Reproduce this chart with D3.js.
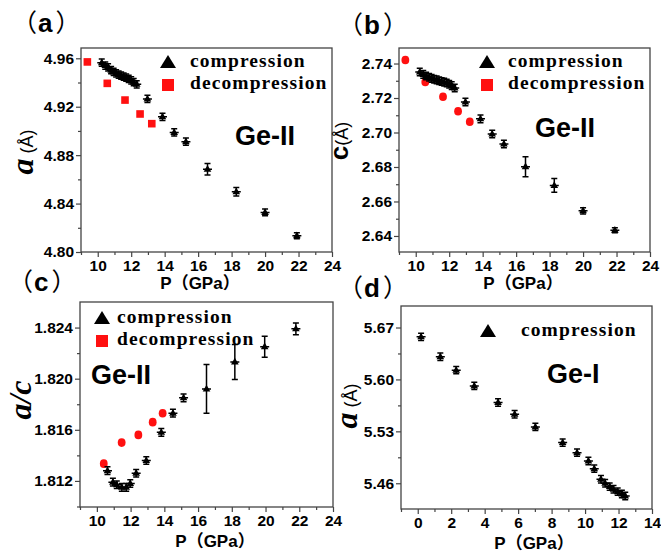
<!DOCTYPE html>
<html>
<head>
<meta charset="utf-8">
<script src="https://cdn.jsdelivr.net/npm/d3@7/dist/d3.min.js"></script>
<style>
body { margin: 0; background: #fff; }
svg { display: block; }
.tick text { font-family: "Liberation Sans", Arial, sans-serif; font-weight: bold; font-size: 15.5px; fill: #000; }
.tick line { stroke: #444; stroke-width: 1.2; }
</style>
</head>
<body>
<svg id="fig" width="661" height="552"></svg>
<script>
// ---- (a) lattice a of Ge-II ----
var geIIPress = [10.24, 10.45, 10.62, 10.8, 10.95, 11.1, 11.25, 11.4, 11.55, 11.7, 11.85, 12.0, 12.15, 12.33, 12.97, 13.87, 14.57, 15.27, 16.56, 18.28, 20.0, 21.9];
var aComp    = [4.9564, 4.9540, 4.9525, 4.9502, 4.9487, 4.9476, 4.9466, 4.9457, 4.9449, 4.9440, 4.9430, 4.9418, 4.9403, 4.9385, 4.9264, 4.9117, 4.8988, 4.8911, 4.8683, 4.8498, 4.8327, 4.8134];
var aCompErr = [0.003, 0.003, 0.003, 0.003, 0.003, 0.003, 0.003, 0.003, 0.003, 0.003, 0.003, 0.003, 0.003, 0.003, 0.003, 0.003, 0.003, 0.003, 0.0048, 0.0035, 0.0028, 0.0025];
var decPress = [9.38, 10.57, 11.63, 12.53, 13.23];
var aDec     = [4.957, 4.9393, 4.9255, 4.914, 4.906];

// ---- (b) lattice c of Ge-II ----
var cComp    = [2.7351, 2.7337, 2.7328, 2.7320, 2.7314, 2.7309, 2.7305, 2.7300, 2.7296, 2.7292, 2.7287, 2.7280, 2.7272, 2.7258, 2.7177, 2.7079, 2.6991, 2.6933, 2.6802, 2.6693, 2.6546, 2.6433];
var cCompErr = [0.0022, 0.0022, 0.0022, 0.0022, 0.0022, 0.0022, 0.0022, 0.0022, 0.0022, 0.0022, 0.0022, 0.0022, 0.0022, 0.0022, 0.0022, 0.0022, 0.0022, 0.0022, 0.0058, 0.004, 0.0018, 0.0015];
var cDec     = [2.742, 2.7293, 2.7207, 2.7123, 2.7062];

// ---- (c) a/c ratio ----
var ratioPress = [10.63, 10.95, 11.18, 11.48, 11.74, 11.98, 12.33, 12.93, 13.82, 14.51, 15.14, 16.5, 18.18, 19.95, 21.8];
var ratioComp  = [1.8128, 1.8119, 1.8117, 1.8115, 1.8115, 1.8118, 1.8126, 1.8136, 1.8158, 1.8173, 1.8185, 1.8192, 1.8213, 1.8225, 1.8239];
var ratioErr   = [0.0003, 0.0003, 0.0003, 0.0003, 0.0003, 0.0003, 0.0003, 0.0003, 0.0003, 0.0003, 0.0003, 0.0019, 0.00137, 0.00082, 0.00046];
var ratioDecP  = [10.41, 11.47, 12.46, 13.31, 13.9];
var ratioDec   = [1.81335, 1.8150, 1.8156, 1.8166, 1.8173];

// ---- (d) lattice a of Ge-I ----
var geIPress = [0.2, 1.35, 2.3, 3.38, 4.8, 5.79, 7.03, 8.66, 9.52, 10.2, 10.55, 10.95, 11.2, 11.47, 11.7, 11.95, 12.2, 12.4];
var geIa     = [5.6574, 5.6305, 5.6125, 5.5913, 5.5688, 5.5531, 5.536, 5.5148, 5.5013, 5.4901, 5.4797, 5.4654, 5.46, 5.4555, 5.452, 5.4487, 5.4456, 5.4429];
var geIErr   = [0.005, 0.005, 0.005, 0.005, 0.005, 0.005, 0.005, 0.005, 0.005, 0.005, 0.005, 0.005, 0.005, 0.005, 0.005, 0.005, 0.005, 0.005];

var pTicksII = [10, 12, 14, 16, 18, 20, 22, 24];
var pMinorII = [9, 11, 13, 15, 17, 19, 21, 23];
var pTicksI  = [0, 2, 4, 6, 8, 10, 12, 14];
var pMinorI  = [-1, 1, 3, 5, 7, 9, 11, 13];

var svg = d3.select("#fig");
var SANS = "'Liberation Sans', Arial, sans-serif";
var SERIF = "'Liberation Serif', 'Times New Roman', serif";
var CJK = "'Liberation Sans', 'Noto Sans CJK SC', sans-serif";

function zip(a, b, e) {
  return a.map(function(p, i) { return {p: p, v: b[i], e: e ? e[i] : 0}; });
}

function panel(o) {
  var x = d3.scaleLinear().domain(o.xDom).range([o.l, o.r]);
  var y = d3.scaleLinear().domain(o.yDom).range([o.b, o.t]);
  var g = svg.append("g");

  // axes (outward ticks, Origin style)
  g.append("g").attr("transform", "translate(0," + o.b + ")")
    .call(d3.axisBottom(x).tickValues(o.xMinor).tickSize(3).tickSizeOuter(0).tickFormat(""))
    .select(".domain").remove();
  g.append("g").attr("transform", "translate(0," + o.b + ")")
    .call(d3.axisBottom(x).tickValues(o.xTicks).tickSize(5).tickPadding(3).tickSizeOuter(0).tickFormat(d3.format("d")))
    .select(".domain").remove();
  g.append("g").attr("transform", "translate(" + o.l + ",0)")
    .call(d3.axisLeft(y).tickValues(o.yMinor).tickSize(3).tickSizeOuter(0).tickFormat(""))
    .select(".domain").remove();
  g.append("g").attr("transform", "translate(" + o.l + ",0)")
    .call(d3.axisLeft(y).tickValues(o.yTicks).tickSize(5).tickPadding(2).tickSizeOuter(0).tickFormat(d3.format(o.yFmt)))
    .select(".domain").remove();

  g.append("rect")
    .attr("x", o.l).attr("y", o.t)
    .attr("width", o.r - o.l).attr("height", o.b - o.t)
    .attr("fill", "none").attr("stroke", "#444").attr("stroke-width", 1.3);

  // decompression points
  if (o.dec) {
    var dg = g.append("g").attr("fill", "#ff1010");
    if (o.decShape == "square") {
      dg.selectAll("rect").data(o.dec).join("rect")
        .attr("x", function(d) { return x(d.p) - 3.8; })
        .attr("y", function(d) { return y(d.v) - 3.8; })
        .attr("width", 7.6).attr("height", 7.6);
    } else {
      dg.selectAll("ellipse").data(o.dec).join("ellipse")
        .attr("cx", function(d) { return x(d.p); })
        .attr("cy", function(d) { return y(d.v); })
        .attr("rx", 3.9).attr("ry", 4.3);
    }
  }

  // compression points: triangle + error bars
  var pts = g.selectAll("g.pt").data(o.comp).join("g")
    .attr("class", "pt")
    .attr("transform", function(d) { return "translate(" + x(d.p) + "," + y(d.v) + ")"; });
  pts.append("path")
    .attr("d", function(d) {
      var up = y(d.v + d.e) - y(d.v), dn = y(d.v - d.e) - y(d.v);
      return "M0," + up + "V" + dn + "M-3," + up + "H3M-3," + dn + "H3M-4.5,0H4.5";
    })
    .attr("stroke", "#000").attr("stroke-width", 1.5).attr("fill", "none");
  pts.append("path").attr("d", "M0,-4.2L3.8,2.5L-3.8,2.5Z").attr("fill", "#000");

  // legend
  var lg = g.append("g");
  lg.append("path")
    .attr("transform", "translate(" + o.leg[0] + "," + o.leg[1] + ")")
    .attr("d", "M0,-7L8,6L-8,6Z").attr("fill", "#000");
  lg.append("text").attr("x", o.leg[2]).attr("y", o.leg[1] + 5)
    .style("font-family", SERIF).style("font-weight", "bold").style("font-size", "19.5px")
    .style("letter-spacing", "1.1px")
    .text("compression");
  if (o.dec) {
    lg.append("rect").attr("x", o.leg[0] - 6).attr("y", o.leg[1] + 17)
      .attr("width", 12).attr("height", 12).attr("fill", "#ff1010");
    lg.append("text").attr("x", o.leg[2]).attr("y", o.leg[1] + 27)
      .style("font-family", SERIF).style("font-weight", "bold").style("font-size", "19.5px")
      .style("letter-spacing", "1.1px")
      .text("decompression");
  }

  // phase name
  g.append("text").attr("x", o.phase[0]).attr("y", o.phase[1])
    .style("font-family", SANS).style("font-weight", "bold").style("font-size", "27px")
    .text(o.phaseName);

  // panel label
  var pl = g.append("text").attr("x", o.lab[0]).attr("y", o.lab[1])
    .style("font-family", CJK).style("font-size", "25px");
  pl.append("tspan").text("（");
  pl.append("tspan").attr("dx", 1).style("font-weight", "bold").style("font-size", "26px").text(o.label);
  pl.append("tspan").attr("dx", 3).text("）");

  // x title
  g.append("text").attr("x", o.xt[0]).attr("y", o.xt[1])
    .attr("text-anchor", "middle")
    .style("font-family", CJK).style("font-weight", "bold").style("font-size", "17px")
    .text("P（GPa）");

  // y title
  var yt = g.append("text")
    .attr("transform", "translate(" + o.yt[0] + "," + o.yt[1] + ") rotate(-90)")
    .attr("text-anchor", "middle");
  o.yTitle.forEach(function(s) {
    yt.append("tspan").text(s.t)
      .style("font-family", s.f).style("font-size", s.size + "px")
      .style("font-weight", s.w || "normal").style("font-style", s.i ? "italic" : "normal");
  });
}

panel({
  l: 81, r: 332, t: 48, b: 252,
  xDom: [9, 24], yDom: [4.80, 4.9685],
  xTicks: pTicksII, xMinor: pMinorII,
  yTicks: [4.80, 4.84, 4.88, 4.92, 4.96], yMinor: [4.82, 4.86, 4.90, 4.94], yFmt: ".2f",
  comp: zip(geIIPress, aComp, aCompErr), dec: zip(decPress, aDec), decShape: "square",
  leg: [168, 62, 190], phase: [235, 145], phaseName: "Ge-II",
  lab: [12, 32], label: "a", xt: [200, 289],
  yt: [33, 152], yTitle: [{t: "a", f: SERIF, size: 32, w: "bold", i: true}, {t: " (Å)", f: SANS, size: 18}]
});

panel({
  l: 399, r: 650, t: 48, b: 252,
  xDom: [9, 24], yDom: [2.6307, 2.749],
  xTicks: pTicksII, xMinor: pMinorII,
  yTicks: [2.64, 2.66, 2.68, 2.70, 2.72, 2.74], yMinor: [2.65, 2.67, 2.69, 2.71, 2.73], yFmt: ".2f",
  comp: zip(geIIPress, cComp, cCompErr), dec: zip(decPress, cDec), decShape: "circle",
  leg: [487, 62, 508], phase: [535, 137], phaseName: "Ge-II",
  lab: [338, 34], label: "b", xt: [523, 289],
  yt: [348, 141], yTitle: [{t: "c", f: SANS, size: 26, w: "bold"}, {t: "(Å)", f: SANS, size: 18}]
});

panel({
  l: 80, r: 333, t: 302, b: 507,
  xDom: [9, 24], yDom: [1.80996, 1.826],
  xTicks: pTicksII, xMinor: pMinorII,
  yTicks: [1.812, 1.816, 1.820, 1.824], yMinor: [1.810, 1.814, 1.818, 1.822], yFmt: ".3f",
  comp: zip(ratioPress, ratioComp, ratioErr), dec: zip(ratioDecP, ratioDec), decShape: "circle",
  leg: [102, 318, 117], phase: [91, 384], phaseName: "Ge-II",
  lab: [8, 291], label: "c", xt: [215, 547],
  yt: [31, 400], yTitle: [{t: "a/c", f: SERIF, size: 32, w: "bold", i: true}]
});

panel({
  l: 401, r: 652, t: 306, b: 509,
  xDom: [-1, 14], yDom: [5.4253, 5.699],
  xTicks: pTicksI, xMinor: pMinorI,
  yTicks: [5.46, 5.53, 5.60, 5.67], yMinor: [5.495, 5.565, 5.635], yFmt: ".2f",
  comp: zip(geIPress, geIa, geIErr), dec: null,
  leg: [488, 331, 521], phase: [547, 383], phaseName: "Ge-I",
  lab: [338, 297], label: "d", xt: [534, 549],
  yt: [357, 406], yTitle: [{t: "a", f: SERIF, size: 32, w: "bold", i: true}, {t: " (Å)", f: SANS, size: 18}]
});
</script>
</body>
</html>
